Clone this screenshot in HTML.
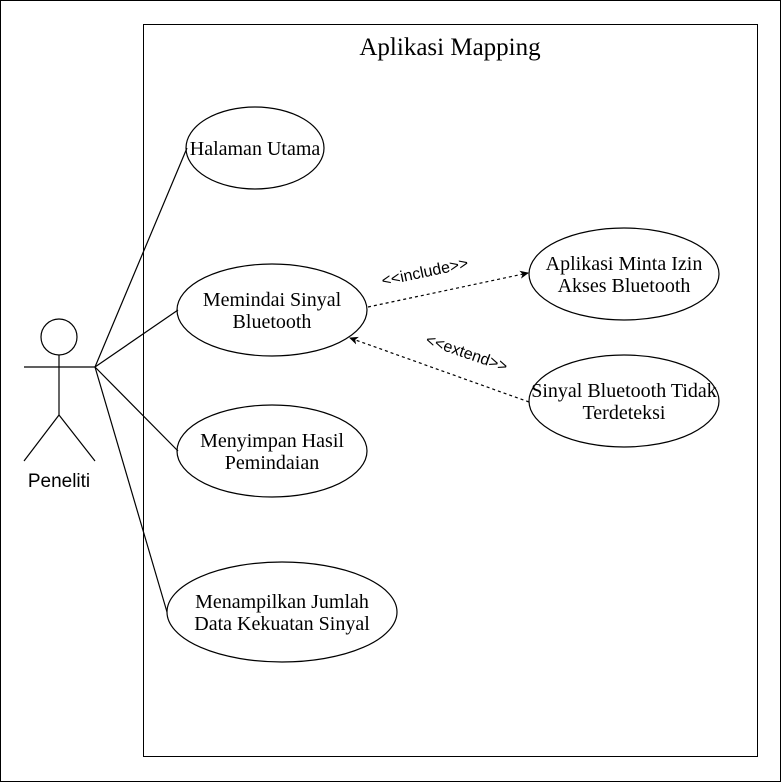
<!DOCTYPE html>
<html><head><meta charset="utf-8"><style>
html,body{margin:0;padding:0;background:#fff;}
svg{display:block}
</style></head><body>
<svg width="781" height="782" viewBox="0 0 781 782" xmlns="http://www.w3.org/2000/svg">
<defs>
<marker id="ar" markerWidth="10" markerHeight="10" refX="8" refY="5" orient="auto" markerUnits="userSpaceOnUse">
<path d="M0,1 L9,5 L0,9 L2.5,5 Z" fill="#000"/>
</marker>
</defs>
<rect x="0.5" y="0.5" width="780" height="781" fill="#fff" stroke="#000"/>
<rect x="143.5" y="24.5" width="614" height="732" fill="none" stroke="#000"/>
<text x="450" y="55" font-family="Liberation Serif, serif" font-size="25" text-anchor="middle">Aplikasi Mapping</text>
<g fill="none" stroke="#000" stroke-width="1.2">
<circle cx="59" cy="337" r="18"/>
<line x1="24" y1="367" x2="95" y2="367"/>
<line x1="59" y1="355" x2="59" y2="415"/>
<line x1="59" y1="415" x2="24" y2="461"/>
<line x1="59" y1="415" x2="95" y2="461"/>
<line x1="95" y1="367" x2="187" y2="148"/>
<line x1="95" y1="367" x2="178" y2="310"/>
<line x1="95" y1="367" x2="178" y2="451"/>
<line x1="95" y1="367" x2="167" y2="612"/>
<ellipse cx="255" cy="148" rx="69" ry="41"/>
<ellipse cx="272" cy="310" rx="95" ry="46"/>
<ellipse cx="272" cy="451" rx="95" ry="46"/>
<ellipse cx="282" cy="612" rx="115" ry="50"/>
<ellipse cx="624" cy="274" rx="95" ry="46"/>
<ellipse cx="624" cy="401" rx="95" ry="46"/>
<line x1="368" y1="307" x2="528" y2="273" stroke-dasharray="3,3" marker-end="url(#ar)"/>
<line x1="529" y1="402" x2="350" y2="338" stroke-dasharray="3,3" marker-end="url(#ar)"/>
</g>
<text x="59" y="487" font-family="Liberation Sans, sans-serif" font-size="19" text-anchor="middle">Peneliti</text>
<g font-family="Liberation Serif, serif" font-size="20" text-anchor="middle">
<text x="255" y="155">Halaman Utama</text>
<text x="272" y="306">Memindai Sinyal</text>
<text x="272" y="328">Bluetooth</text>
<text x="272" y="447">Menyimpan Hasil</text>
<text x="272" y="469">Pemindaian</text>
<text x="282" y="608">Menampilkan Jumlah</text>
<text x="282" y="630">Data Kekuatan Sinyal</text>
<text x="624" y="270">Aplikasi Minta Izin</text>
<text x="624" y="292">Akses Bluetooth</text>
<text x="624" y="397">Sinyal Bluetooth Tidak</text>
<text x="624" y="419">Terdeteksi</text>
</g>
<g font-family="Liberation Sans, sans-serif" font-size="16" text-anchor="middle">
<text x="426" y="277" transform="rotate(-12 426 277)">&lt;&lt;include&gt;&gt;</text>
<text x="465" y="358" transform="rotate(19 465 358)">&lt;&lt;extend&gt;&gt;</text>
</g>
</svg>
</body></html>
